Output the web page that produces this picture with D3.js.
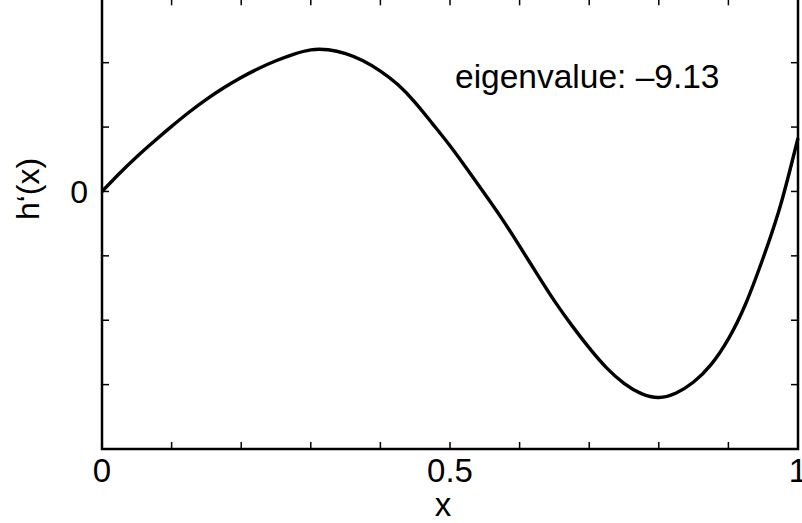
<!DOCTYPE html>
<html>
<head>
<meta charset="utf-8">
<script src="https://cdn.jsdelivr.net/npm/d3@7"></script>
<style>
  body { margin: 0; background: #fff; }
  text { font-family: "Liberation Sans", Arial, sans-serif; fill: #000; }
</style>
</head>
<body>
<div id="chart"></div>
<script>
// data
const xs = [0, 0.025, 0.05, 0.075, 0.1, 0.125, 0.15, 0.175, 0.2, 0.225, 0.25, 0.275, 0.3, 0.325,
  0.35, 0.375, 0.4, 0.425, 0.45, 0.475, 0.5, 0.525, 0.55, 0.575, 0.6, 0.625, 0.65, 0.675,
  0.7, 0.725, 0.75, 0.775, 0.8, 0.825, 0.85, 0.875, 0.9, 0.925, 0.95, 0.975, 1];
const hVals = [0, 0.28, 0.54, 0.78, 1.01, 1.23, 1.43, 1.61, 1.77, 1.91, 2.03, 2.13, 2.20, 2.20,
  2.14, 2.03, 1.87, 1.66, 1.38, 1.05, 0.71, 0.34, -0.04, -0.43, -0.85, -1.28, -1.70, -2.08,
  -2.43, -2.74, -2.98, -3.14, -3.20, -3.13, -2.96, -2.69, -2.29, -1.74, -1.03, -0.21, 0.83];
const xTicks = d3.range(0, 1.0001, 0.1);
const xTickLabels = {0: "0", 0.5: "0.5", 1: "1"};
const yTicks = [-3, -2, -1, 0, 1, 2];
const yTickLabels = {0: "0"};
const annotation = "eigenvalue: \u20139.13";

const width = 802, height = 523;

const svg = d3.select("#chart").append("svg")
    .attr("width", width)
    .attr("height", height);

const x = d3.scaleLinear().domain([0, 1]).range([102, 798]);
const y = d3.scaleLinear().domain([-4, 3]).range([449, -1.7]);

const tickLen = 7;

// ticks (inward, mirrored on all sides)
svg.append("g").selectAll("line.xb")
    .data(xTicks).join("line")
    .attr("x1", d => x(d)).attr("x2", d => x(d))
    .attr("y1", y(-4)).attr("y2", y(-4) - tickLen)
    .attr("stroke", "#000").attr("stroke-width", 1.5);
svg.append("g").selectAll("line.xt")
    .data(xTicks).join("line")
    .attr("x1", d => x(d)).attr("x2", d => x(d))
    .attr("y1", y(3)).attr("y2", y(3) + tickLen)
    .attr("stroke", "#000").attr("stroke-width", 1.5);
svg.append("g").selectAll("line.yl")
    .data(yTicks).join("line")
    .attr("x1", x(0)).attr("x2", x(0) + tickLen)
    .attr("y1", d => y(d)).attr("y2", d => y(d))
    .attr("stroke", "#000").attr("stroke-width", 1.5);
svg.append("g").selectAll("line.yr")
    .data(yTicks).join("line")
    .attr("x1", x(1)).attr("x2", x(1) - tickLen)
    .attr("y1", d => y(d)).attr("y2", d => y(d))
    .attr("stroke", "#000").attr("stroke-width", 1.5);

// box
svg.append("rect")
    .attr("x", x(0)).attr("y", y(3))
    .attr("width", x(1) - x(0)).attr("height", y(-4) - y(3))
    .attr("fill", "none").attr("stroke", "#000").attr("stroke-width", 2.5);

// tick labels
svg.append("g").selectAll("text")
    .data(xTicks.filter(d => xTickLabels[+d.toFixed(1)] !== undefined)).join("text")
    .attr("x", d => x(d)).attr("y", 470)
    .attr("text-anchor", "middle").attr("dominant-baseline", "central")
    .style("font-size", "33px")
    .text(d => xTickLabels[+d.toFixed(1)]);
svg.append("g").selectAll("text")
    .data(yTicks.filter(d => yTickLabels[d] !== undefined)).join("text")
    .attr("x", 88).attr("y", d => y(d) + 1)
    .attr("text-anchor", "end").attr("dominant-baseline", "central")
    .style("font-size", "32px")
    .text(d => yTickLabels[d]);

// axis labels
svg.append("text")
    .attr("x", 443).attr("y", 504)
    .attr("text-anchor", "middle").attr("dominant-baseline", "central")
    .style("font-size", "33px")
    .text("x");
svg.append("text")
    .attr("transform", "translate(28,189) rotate(-90)")
    .attr("text-anchor", "middle").attr("dominant-baseline", "central")
    .style("font-size", "32px")
    .text("h\u2018(x)");

// curve
const pts = xs.map((d, i) => [d, hVals[i]]);
svg.append("path")
    .datum(pts)
    .attr("fill", "none")
    .attr("stroke", "#000")
    .attr("stroke-width", 3.4)
    .attr("stroke-linejoin", "round")
    .attr("d", d3.line().x(d => x(d[0])).y(d => y(d[1])).curve(d3.curveNatural));

// annotation
svg.append("text")
    .attr("x", 455).attr("y", 88)
    .style("font-size", "33.5px")
    .text(annotation);
</script>
</body>
</html>
